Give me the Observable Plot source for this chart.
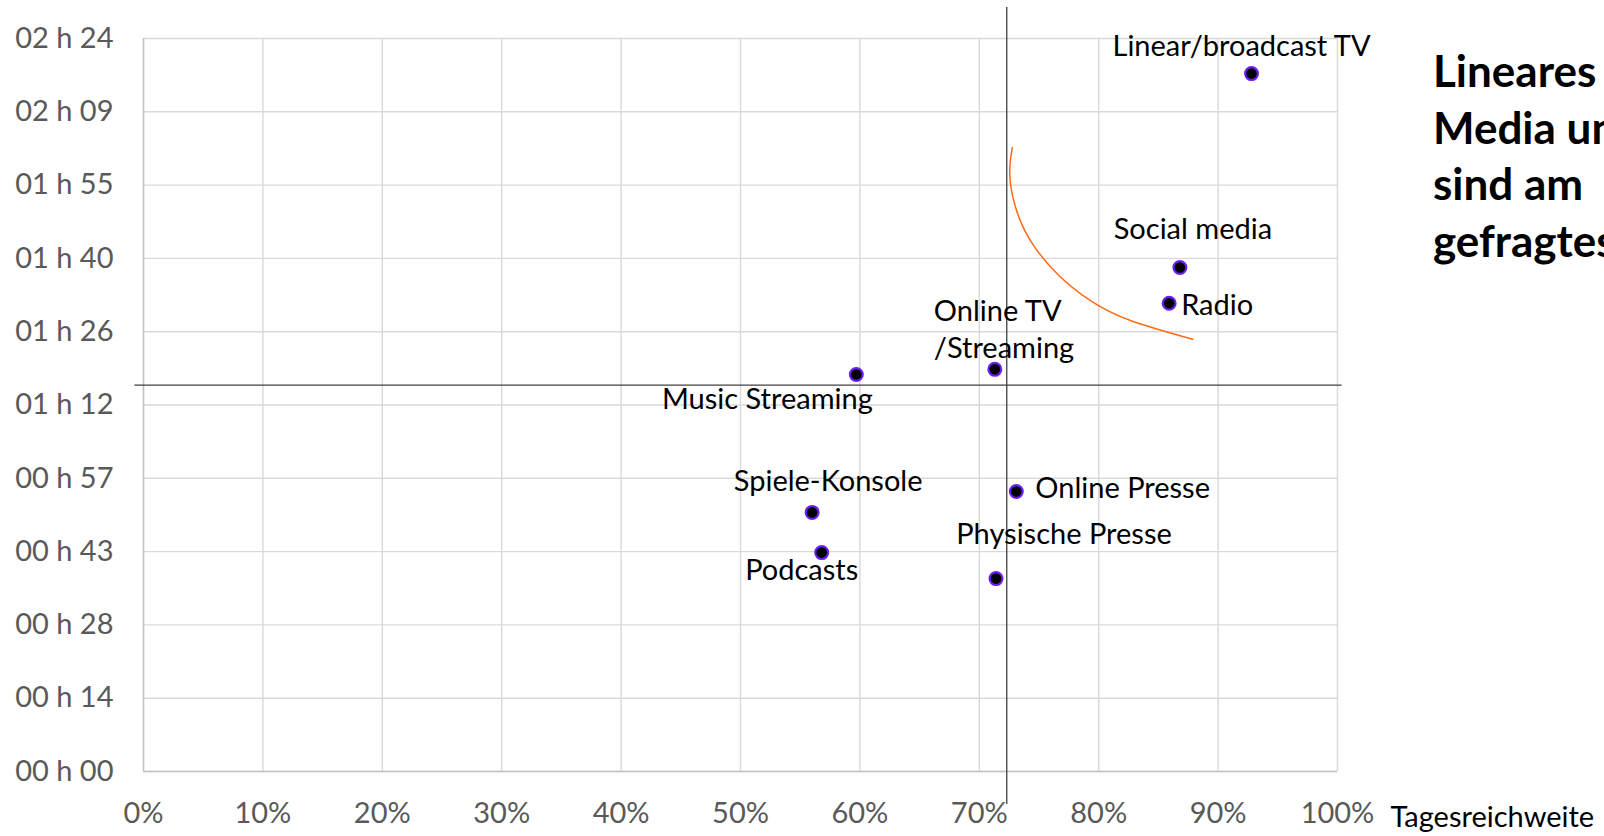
<!DOCTYPE html>
<html>
<head>
<meta charset="utf-8">
<script src="https://cdn.jsdelivr.net/npm/d3@7"></script>
<script src="https://cdn.jsdelivr.net/npm/@observablehq/plot@0.6"></script>
<style>
  html, body { margin: 0; padding: 0; background: #fff; overflow: hidden; width: 1604px; height: 836px; }
  #wrap { position: relative; width: 1604px; height: 836px; overflow: hidden; }
  #title { position: absolute; left: 1433px; top: 42px; font-family: Lato, sans-serif; font-weight: 700;
           font-size: 44px; line-height: 56.7px; color: #000; white-space: nowrap; }
  svg { display: block; }
</style>
</head>
<body>
<div id="wrap">
  <div id="chart"></div>
  <div id="title">Lineares TV, Social<br>Media und Radio<br>sind am<br>gefragtesten</div>
</div>
<script>
// ---- data ----
const categories = ["Linear/broadcast TV", "Social media", "Radio", "Online TV /Streaming", "Music Streaming",
                    "Spiele-Konsole", "Podcasts", "Online Presse", "Physische Presse"];
const reach = [92.8, 86.8, 85.9, 71.3, 59.7, 56.0, 56.8, 73.1, 71.4];          // Tagesreichweite in %
const minutes = [137.1, 99.0, 92.0, 79.0, 78.0, 50.9, 43.0, 55.0, 37.9];       // Nutzungsdauer in Minuten

const xTicks = [0, 10, 20, 30, 40, 50, 60, 70, 80, 90, 100];
const xTickLabels = ["0%", "10%", "20%", "30%", "40%", "50%", "60%", "70%", "80%", "90%", "100%"];
const yTicks = [0, 14.4, 28.8, 43.2, 57.6, 72, 86.4, 100.8, 115.2, 129.6, 144];
const yTickLabels = ["00 h 00", "00 h 14", "00 h 28", "00 h 43", "00 h 57", "01 h 12", "01 h 26",
                     "01 h 40", "01 h 55", "02 h 09", "02 h 24"];

const avgReach = 72.3;
const avgMinutes = 75.9;

// hand-drawn highlight arc (data coordinates)
const arcReach = [72.77, 72.55, 73.03, 74.28, 76.52, 79.31, 82.66, 87.88];
const arcMinutes = [122.6, 117.4, 110.9, 104.3, 97.8, 92.5, 88.6, 84.9];

// ---- layout config for labels ----
const labelLayout = {
  "Linear/broadcast TV": {anchor: "middle", dx: -10, dy: -30},
  "Social media": {anchor: "middle", dx: 13, dy: -40},
  "Radio": {anchor: "start", dx: 12, dy: 0},
  "Online TV /Streaming": {anchor: "start", dx: -61, dy: -42},
  "Music Streaming": {anchor: "middle", dx: -89, dy: 23},
  "Spiele-Konsole": {anchor: "middle", dx: 16, dy: -33},
  "Podcasts": {anchor: "middle", dx: -20, dy: 15},
  "Online Presse": {anchor: "start", dx: 19, dy: -5},
  "Physische Presse": {anchor: "middle", dx: 68, dy: -46}
};

const points = categories.map((c, i) => ({name: c, reach: reach[i], minutes: minutes[i]}));
const arc = arcReach.map((r, i) => ({reach: r, minutes: arcMinutes[i]}));

const labelMarks = points.map(p => {
  const L = labelLayout[p.name];
  return Plot.text([p], {
    x: "reach", y: "minutes",
    text: d => d.name.replace(" /", "\n/"),
    textAnchor: L.anchor, dx: L.dx, dy: L.dy,
    lineHeight: 1.28, fill: "#000", fontSize: 29
  });
});

const chart = Plot.plot({
  width: 1604,
  height: 836,
  marginLeft: 143,
  marginRight: 267,
  marginTop: 38,
  marginBottom: 65,
  style: {fontFamily: "Lato, sans-serif", fontSize: "29px", background: "#fff", overflow: "visible"},
  x: {domain: [0, 100]},
  y: {domain: [0, 144]},
  marks: [
    Plot.gridX(xTicks, {stroke: "#d9d9d9", strokeOpacity: 1, strokeWidth: 1.4}),
    Plot.gridY(yTicks, {stroke: "#d9d9d9", strokeOpacity: 1, strokeWidth: 1.4}),
    Plot.ruleX([0], {stroke: "#c4c4c4", strokeWidth: 1.5}),
    Plot.ruleY([0], {stroke: "#c4c4c4", strokeWidth: 1.5}),
    Plot.axisX(xTicks, {tickSize: 0, tickPadding: 31, color: "#595959", fontSize: 29,
                        tickFormat: d => xTickLabels[xTicks.indexOf(d)], label: null}),
    Plot.axisY(yTicks, {tickSize: 0, tickPadding: 30, color: "#595959", fontSize: 29,
                        tickFormat: d => yTickLabels[yTicks.indexOf(d)], label: null}),
    Plot.text(["Tagesreichweite"], {x: 100, y: 0, textAnchor: "start", dx: 53, dy: 46,
                                    fill: "#000", fontSize: 29}),
    Plot.ruleY([avgMinutes], {x1: -0.72, x2: 100.38, stroke: "#404040", strokeWidth: 1.3}),
    Plot.ruleX([avgReach], {y1: -6.5, y2: 150.1, stroke: "#404040", strokeWidth: 1.3}),
    Plot.line(arc, {x: "reach", y: "minutes", curve: "natural", stroke: "#ff6a13", strokeWidth: 1.5}),
    Plot.dot(points, {x: "reach", y: "minutes", r: 6.4, fill: "#000", stroke: "#6a1ff0", strokeWidth: 2.2}),
    ...labelMarks
  ]
});
document.getElementById("chart").appendChild(chart);
</script>
</body>
</html>
